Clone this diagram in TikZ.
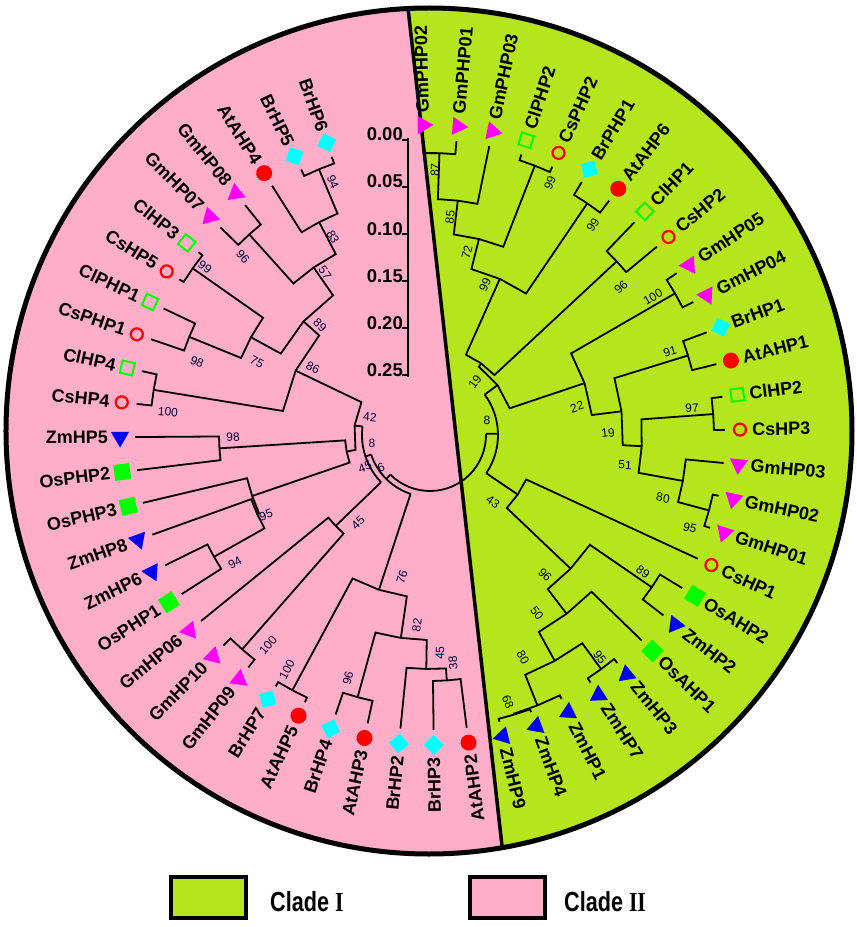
\documentclass[tikz,border=0pt]{standalone}
\usepackage{fontspec}
\setmainfont{Liberation Sans}
\newfontfamily\romanbf{Liberation Serif}
\usetikzlibrary{calc,positioning,shapes.geometric}

\definecolor{cladeone}{RGB}{181,230,29}
\definecolor{cladetwo}{RGB}{255,174,201}
\definecolor{gmcol}{RGB}{255,0,255}
\definecolor{zmcol}{RGB}{0,0,245}
\definecolor{atcol}{RGB}{255,0,0}
\definecolor{brcol}{RGB}{0,255,255}
\definecolor{clcol}{RGB}{0,255,0}

\tikzset{
  branch/.style={line width=1.8pt, line join=miter},
  leaf/.style={inner sep=0pt, font=\bfseries\fontsize{18}{18}\selectfont},
  boot/.style={inner sep=0pt, font=\fontsize{12}{12}\selectfont, text=black!80!blue},
  scalelbl/.style={inner sep=0pt, font=\bfseries\fontsize{18.5}{18.5}\selectfont},
  tri/.style={regular polygon, regular polygon sides=3, shape border rotate=180, minimum size=21pt, inner sep=0pt},
  gmmark/.style={tri, fill=gmcol},
  zmmark/.style={tri, fill=zmcol},
  atmark/.style={circle, fill=atcol, minimum size=16pt, inner sep=0pt},
  csmark/.style={circle, draw=atcol, line width=2.2pt, minimum size=12pt, inner sep=0pt},
  brmark/.style={regular polygon, regular polygon sides=4, shape border rotate=45, fill=brcol, minimum size=20pt, inner sep=0pt},
  clmark/.style={rectangle, draw=clcol, line width=2pt, minimum size=12.5pt, inner sep=0pt},
  osmark/.style={rectangle, fill=clcol, minimum size=16pt, inner sep=0pt},
  keybox/.style={draw, line width=4pt, minimum width=75pt, minimum height=41pt},
  keytext/.style={inner sep=0pt, font=\bfseries\fontsize{24}{24}\selectfont},
}

% clade: name, angle, radius, children (joined by chords)
\newcommand{\clade}[4]{%
  \coordinate (#1) at (#2:#3);
  \foreach \ch in {#4}{\draw[branch] (#1) -- ($(O)!#3pt!(\ch)$) -- (\ch);}}
% clade drawn with a true arc: name, angle, radius, from, to, children
\newcommand{\arcclade}[6]{%
  \coordinate (#1) at (#2:#3);
  \draw[branch] (#4:#3) arc[start angle=#4, end angle=#5, radius=#3pt];
  \foreach \ch in {#6}{\draw[branch] ($(O)!#3pt!(\ch)$) -- (\ch);}}

\begin{document}
\begin{tikzpicture}[x=1pt, y=1pt]
  \useasboundingbox (-430,-492) rectangle (427,435);
  \coordinate (O) at (0,0);

  % background halves
  \begin{scope}
    \clip (-1,4) circle[radius=423pt];
    \fill[cladeone] (-500,-500) rectangle (500,500);
    \fill[cladetwo] (-500,500) -- (-30.2,500) -- (82,-500) -- (-500,-500) -- cycle;
    \draw[line width=3.5pt] (-30.2,500) -- (82,-500);
  \end{scope}
  \draw[line width=5pt] (-1,4) circle[radius=423pt];

  % scale bar
  \draw[line width=1.6pt] (-22,297) -- (-22,58);
  \foreach \v/\y [count=\k] in {0.00/295,0.05/248,0.10/201,0.15/154,0.20/107,0.25/60}{
    \draw[line width=1.6pt] (-28,\y) -- (-22,\y);
    \node[scalelbl, anchor=base east] (sc\k) at (-27,\y-1) {\v};
  }

  % leaves, clade I
  \foreach \nm/\mk/\a in {GmPHP02/gmmark/91.3, GmPHP01/gmmark/84.85, GmPHP03/gmmark/78.4,
      ClPHP2/clmark/71.95, CsPHP2/csmark/65.5, BrPHP1/brmark/59.05, AtAHP6/atmark/52.6,
      ClHP1/clmark/46.15, CsHP2/csmark/39.7, GmHP05/gmmark/33.25, GmHP04/gmmark/26.8,
      BrHP1/brmark/20.35, AtAHP1/atmark/13.9, ClHP2/clmark/7.45, CsHP3/csmark/1.0,
      GmHP03/gmmark/-5.45, GmHP02/gmmark/-11.9, GmHP01/gmmark/-18.35, CsHP1/csmark/-24.8,
      OsAHP2/osmark/-31.25, ZmHP2/zmmark/-37.7, OsAHP1/osmark/-44.15, ZmHP3/zmmark/-50.6,
      ZmHP7/zmmark/-57.05, ZmHP1/zmmark/-63.5, ZmHP4/zmmark/-69.95, ZmHP9/zmmark/-76.4}{
    \coordinate (\nm) at (\a:295);
    \node[\mk, rotate=\a] (\nm-m) at (\a:310) {};
    \node[leaf, anchor=west, rotate=\a] (\nm-t) at (\a:322) {\nm};
  }
  % leaves, clade II
  \foreach \nm/\mk/\a in {AtAHP2/atmark/-82.85, BrHP3/brmark/-89.3, BrHP2/brmark/-95.75,
      AtAHP3/atmark/-102.2, BrHP4/brmark/-108.65, AtAHP5/atmark/-115.1, BrHP7/brmark/-121.55,
      GmHP09/gmmark/-128.0, GmHP10/gmmark/-134.45, GmHP06/gmmark/-140.9, OsPHP1/osmark/-147.35,
      ZmHP6/zmmark/-153.8, ZmHP8/zmmark/-160.25, OsPHP3/osmark/-166.7, OsPHP2/osmark/-173.15,
      ZmHP5/zmmark/-179.6, CsHP4/csmark/-186.05, ClHP4/clmark/-192.5, CsPHP1/csmark/-198.95,
      ClPHP1/clmark/-205.4, CsHP5/csmark/-211.85, ClHP3/clmark/-218.3, GmHP07/gmmark/-224.75,
      GmHP08/gmmark/-231.2, AtAHP4/atmark/-237.65, BrHP5/brmark/-244.1, BrHP6/brmark/-250.55}{
    \coordinate (\nm) at (\a:295);
    \node[\mk, rotate=\a+180] (\nm-m) at (\a:310) {};
    \node[leaf, anchor=east, rotate=\a+180] (\nm-t) at (\a:322) {\nm};
  }

  % clade I tree
  \clade{nA}{88.08}{282}{GmPHP02,GmPHP01}
  \clade{nB}{83.24}{236}{nA,GmPHP03}
  \clade{nD}{68.73}{289}{ClPHP2,CsPHP2}
  \clade{nC}{75.98}{202}{nB,nD}
  \clade{nF}{55.83}{280}{BrPHP1,AtAHP6}
  \clade{nE}{65.90}{171}{nC,nF}
  \clade{nI}{42.93}{255}{ClHP1,CsHP2}
  \clade{nT}{54.41}{88}{nE,nI}
  \clade{nJ}{30.03}{283}{GmHP05,GmHP04}
  \clade{nK}{17.13}{270}{BrHP1,AtAHP1}
  \clade{nN}{4.23}{284}{ClHP2,CsHP3}
  \clade{nP}{-15.13}{289}{GmHP02,GmHP01}
  \clade{nQ}{-10.29}{257}{GmHP03,nP}
  \clade{nR}{-3.03}{212}{nN,nQ}
  \clade{nM}{7.05}{193}{nK,nR}
  \clade{nL}{18.54}{163}{nJ,nM}
  \clade{nS}{36.47}{84}{nT,nL}
  \clade{nW}{-34.48}{269}{OsAHP2,ZmHP2}
  \clade{nAA}{-53.83}{290}{ZmHP3,ZmHP7}
  \clade{nCC}{-73.18}{292}{ZmHP4,ZmHP9}
  \clade{nBB}{-68.34}{291}{ZmHP1,nCC}
  \clade{nZ}{-61.08}{258}{nAA,nBB}
  \clade{nY}{-52.62}{225}{OsAHP1,nZ}
  \clade{nV}{-43.55}{194}{nW,nY}
  \clade{nU}{-34.17}{106}{CsHP1,nV}
  \arcclade{nCI}{1.15}{68}{36.47}{-34.17}{nS,nU}

  % clade II tree
  \clade{nZ6}{-86.08}{246}{AtAHP2,BrHP3}
  \clade{nZ5}{-90.91}{234}{nZ6,BrHP2}
  \clade{nZ3}{-105.43}{272}{AtAHP3,BrHP4}
  \clade{nZ4}{-98.17}{205}{nZ5,nZ3}
  \clade{nZ1}{-118.33}{290}{AtAHP5,BrHP7}
  \clade{nZ2}{-108.25}{163}{nZ4,nZ1}
  \clade{nY5}{-131.23}{285}{GmHP09,GmHP10}
  \clade{nY6}{-136.06}{131}{nY5,GmHP06}
  \clade{nY2}{-150.58}{248}{OsPHP1,ZmHP6}
  \clade{nY4}{-155.41}{190}{nY2,ZmHP8}
  \clade{nY3}{-161.06}{188}{nY4,OsPHP3}
  \clade{nY1}{-176.38}{211}{OsPHP2,ZmHP5}
  \clade{nX10}{-189.28}{280}{CsHP4,ClHP4}
  \clade{nX6}{-202.18}{260}{CsPHP1,ClPHP1}
  \clade{nX5}{-215.08}{290}{CsHP5,ClHP3}
  \clade{nX7}{-208.63}{204}{nX6,nX5}
  \clade{nX3}{-227.98}{270}{GmHP07,GmHP08}
  \clade{nX1}{-247.33}{288}{BrHP5,BrHP6}
  \clade{nX2}{-242.49}{240}{AtAHP4,nX1}
  \clade{nX4}{-235.23}{204}{nX3,nX2}
  \clade{nX8}{-221.93}{170}{nX7,nX4}
  \clade{nX9}{-205.60}{149}{nX10,nX8}
  \clade{nG1}{-168.72}{85}{nY3,nY1}
  \clade{nG2}{-187.16}{76}{nG1,nX9}
  \arcclade{nG3}{-161.61}{68}{-187.16}{-136.06}{nG2,nY6}
  \arcclade{nG4}{-134.93}{62}{-161.61}{-108.25}{nG3,nZ2}
  \arcclade{nRoot}{-66.9}{56}{-134.93}{1.15}{nG4,nCI}

  % bootstrap values
  \foreach \b/\x/\y/\r [count=\k] in {87/5/265/88, 85/20/218/83, 72/37/183/76, 99/120/252/69,
      99/55/150/66, 99/163/210/56, 96/191/148/43, 19/45/53/54, 100/223/138/30, 91/240/83/17,
      22/147/28/18, 19/178/2/7, 97/262/27/4, 51/195/-30/-3, 80/233/-63/-10, 95/260/-93/-15,
      8/57/15/0, 43/63/-67/-34, 89/213/-137/-34, 96/115/-140/-44, 50/107/-178/-53,
      80/93/-222/-61, 95/170/-222/-54, 68/78/-267/-68,
      94/-97/253/-67, 83/-97/198/-62, 96/-187/178/-48, 57/-105/162/-55, 99/-225/168/-35,
      98/-233/73/-22, 75/-173/73/-29, 89/-110/110/-42, 100/-262/23/-5, 86/-117/67/-26,
      42/-60/18/-5, 8/-58/-8/0, 45/-65/-32/20, 6/-49/-32/20, 98/-197/-2/4, 95/-164/-80/19,
      94/-195/-128/29, 45/-72/-88/44, 100/-162/-210/49, 100/-143/-235/62, 96/-82/-243/75,
      76/-28/-142/72, 82/-13/-190/82, 45/10/-218/89, 38/23/-228/94}{
    \node[boot, rotate=\r] (bs\k) at (\x,\y) {\b};
  }

  % legend
  \node[keybox, fill=cladeone] (key1) at (-221.5,-462.5) {};
  \node[keytext, right=22pt of key1, yshift=-4pt] (key1t) {\scalebox{0.9}[1.15]{Clade {\romanbf I}}};
  \node[keybox, fill=cladetwo] (key2) at (77.5,-462.5) {};
  \node[keytext, right=17pt of key2, yshift=-4pt] (key2t) {\scalebox{0.9}[1.15]{Clade {\romanbf II}}};
\end{tikzpicture}
\end{document}
